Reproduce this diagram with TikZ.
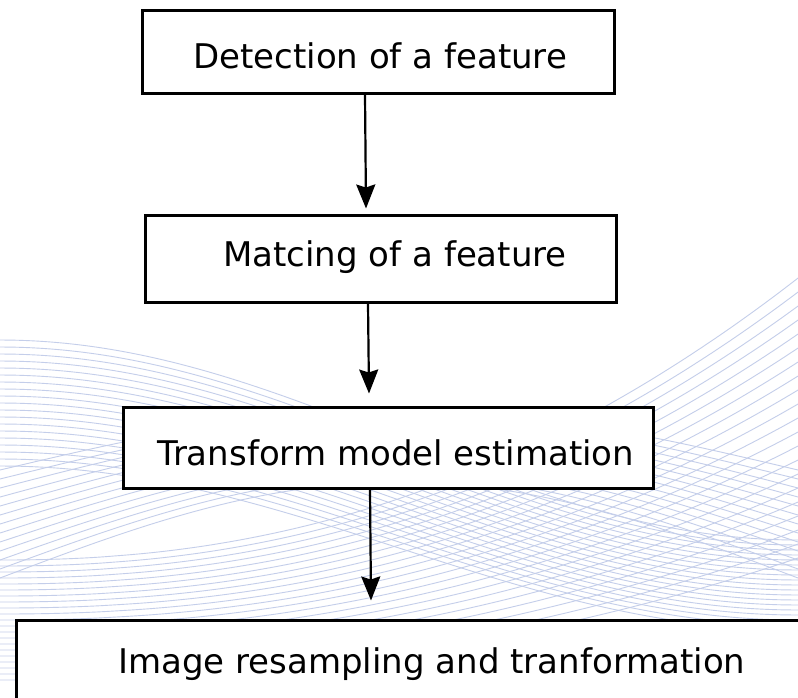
\documentclass[tikz,border=0pt]{standalone}
\usepackage{fontspec}
\setmainfont{DejaVu Sans}
\usetikzlibrary{arrows.meta}
\definecolor{wavec}{HTML}{C4CEEA}
\tikzset{
  box/.style={draw=black, line width=3pt, fill=white, rectangle, inner sep=0pt},
  lbl/.style={anchor=base west, inner sep=0pt, font=\fontsize{34}{40}\selectfont},
  arr/.style={draw=black, line width=2.2pt, -{Stealth[length=24pt, width=19pt, inset=3pt]}},
  wave/.style={draw=wavec, line width=0.9pt}
}
\begin{document}
\begin{tikzpicture}[x=1pt, y=-1pt]
\useasboundingbox (0,0) rectangle (798,697);
\clip (0,0) rectangle (798,697);
\fill[white] (0,0) rectangle (798,697);
% background waves
\foreach \i in {0,...,18}{
  \draw[wave] plot[domain=0:798, samples=50, smooth]
    (\x, {340+7*\i + (200-2*\i)*(1-cos(0.22556*\x))/2});
}
\foreach \i in {0,...,20}{
  \draw[wave] plot[domain=0:798, samples=50, smooth]
    (\x, {(560+6*\i) - ((560+6*\i)-(278+14*\i))*pow(\x/798,2.2)});
}
\foreach \i in {0,...,12}{
  \draw[wave] plot[domain=0:798, samples=50, smooth]
    (\x, {(470+9*\i) - (60+3*\i)*sin(0.22556*\x)});
}
% boxes
\node[box, minimum width=472pt, minimum height=83pt] (b1) at (378,51.5) {};
\node[box, minimum width=471pt, minimum height=87pt] (b2) at (380.5,258.5) {};
\node[box, minimum width=530pt, minimum height=81pt] (b3) at (388,447.5) {};
\node[box, minimum width=794pt, minimum height=90pt] (b4) at (413,665) {};
% labels
\node[lbl] (t1) at (193,68) {Detection of a feature};
\node[lbl] (t2) at (223,266) {Matcing of a feature};
\node[lbl] (t3) at (157,465) {Transform model estimation};
\node[lbl] (t4) at (118,673) {Image resampling and tranformation};
% arrows
\draw[arr] ([xshift=-13pt]b1.south) -- ([xshift=-14.5pt,yshift=5pt]b2.north);
\draw[arr] ([xshift=-12.5pt]b2.south) -- ([xshift=-19pt,yshift=12pt]b3.north);
\draw[arr] ([xshift=-18pt]b3.south) -- ([xshift=-42pt,yshift=18pt]b4.north);
\end{tikzpicture}
\end{document}
